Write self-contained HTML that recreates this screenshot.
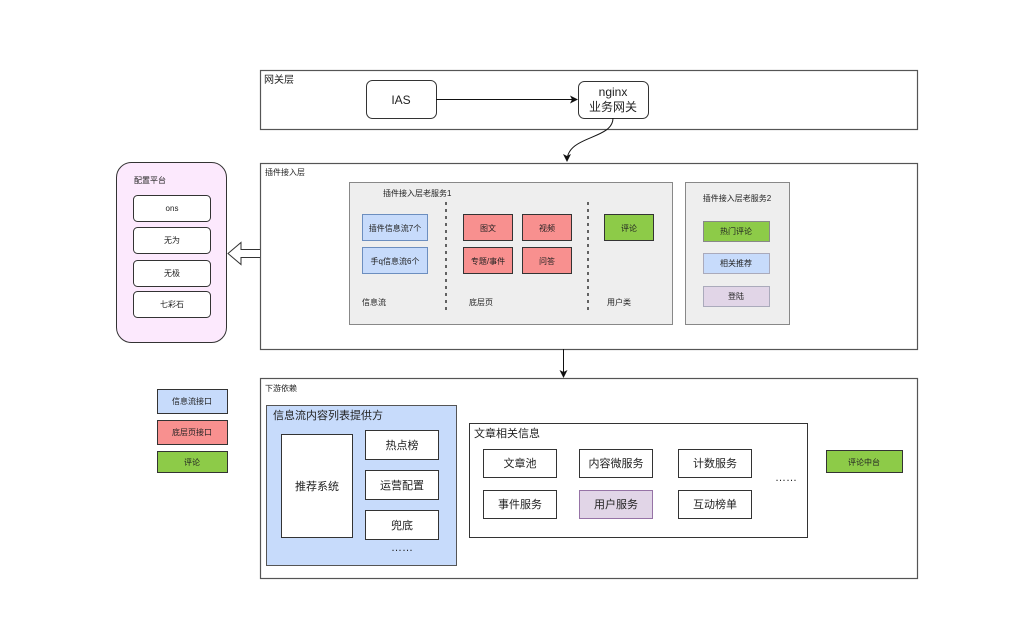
<!DOCTYPE html>
<html><head><meta charset="utf-8"><style>
body{margin:0;background:#fff;}
svg text{font-family:"Liberation Sans","Noto Sans CJK SC",sans-serif;fill:#222;}
</style></head><body>
<svg width="1020" height="621" viewBox="0 0 1020 621" xmlns="http://www.w3.org/2000/svg">
<defs><marker id="a" markerWidth="8" markerHeight="8" refX="7" refY="4" orient="auto" markerUnits="userSpaceOnUse"><path d="M0,0 L8,4 L0,8 L2,4 Z" fill="#111"/></marker></defs>
<!-- gateway -->
<rect x="260.5" y="70.5" width="657" height="59" fill="#fff" stroke="#555" stroke-width="1.2"/>
<text x="264" y="83" font-size="10">网关层</text>
<rect x="366.5" y="80.5" width="70" height="38" rx="6" fill="#fff" stroke="#333"/>
<text x="401" y="104" font-size="12" text-anchor="middle">IAS</text>
<rect x="578.5" y="81.5" width="70" height="37" rx="6" fill="#fff" stroke="#333"/>
<text x="613" y="96" font-size="12" text-anchor="middle">nginx</text>
<text x="613" y="111" font-size="12" text-anchor="middle">业务网关</text>
<line x1="436" y1="99.5" x2="577" y2="99.5" stroke="#111" marker-end="url(#a)"/>
<path d="M613,118 C613,140 567,135 567,161" fill="none" stroke="#111" marker-end="url(#a)"/>
<!-- plugin layer -->
<rect x="260.5" y="163.5" width="657" height="186" fill="#fff" stroke="#555" stroke-width="1.2"/>
<text x="265" y="175" font-size="8">插件接入层</text>
<rect x="349.5" y="182.5" width="323" height="142" fill="#eeeeee" stroke="#888"/>
<text x="383" y="196" font-size="8">插件接入层老服务1</text>
<rect x="362.5" y="214.5" width="65" height="26" fill="#c7dbfb" stroke="#6c8ebf"/>
<text x="395" y="231" font-size="8" text-anchor="middle">插件信息流7个</text>
<rect x="362.5" y="247.5" width="65" height="26" fill="#c7dbfb" stroke="#6c8ebf"/>
<text x="395" y="264" font-size="8" text-anchor="middle">手q信息流6个</text>
<line x1="446" y1="202" x2="446" y2="311" stroke="#333" stroke-width="1.5" stroke-dasharray="3,4"/>
<rect x="463.5" y="214.5" width="49" height="26" fill="#f8908f" stroke="#333"/>
<text x="488" y="231" font-size="8" text-anchor="middle">图文</text>
<rect x="522.5" y="214.5" width="49" height="26" fill="#f8908f" stroke="#333"/>
<text x="547" y="231" font-size="8" text-anchor="middle">视频</text>
<rect x="463.5" y="247.5" width="49" height="26" fill="#f8908f" stroke="#333"/>
<text x="488" y="264" font-size="8" text-anchor="middle">专题/事件</text>
<rect x="522.5" y="247.5" width="49" height="26" fill="#f8908f" stroke="#333"/>
<text x="547" y="264" font-size="8" text-anchor="middle">问答</text>
<line x1="588" y1="202" x2="588" y2="311" stroke="#333" stroke-width="1.5" stroke-dasharray="3,4"/>
<rect x="604.5" y="214.5" width="49" height="26" fill="#8dcb48" stroke="#333"/>
<text x="629" y="231" font-size="8" text-anchor="middle">评论</text>
<text x="362" y="305" font-size="8">信息流</text>
<text x="469" y="305" font-size="8">底层页</text>
<text x="607" y="305" font-size="8">用户类</text>
<rect x="685.5" y="182.5" width="104" height="142" fill="#eeeeee" stroke="#888"/>
<text x="737" y="201" font-size="8" text-anchor="middle">插件接入层老服务2</text>
<rect x="703.5" y="221.5" width="66" height="20" fill="#8dcb48" stroke="#888"/>
<text x="736" y="234" font-size="8" text-anchor="middle">热门评论</text>
<rect x="703.5" y="253.5" width="66" height="20" fill="#c7dbfb" stroke="#aab"/>
<text x="736" y="266" font-size="8" text-anchor="middle">相关推荐</text>
<rect x="703.5" y="286.5" width="66" height="20" fill="#e1d5e7" stroke="#aab"/>
<text x="736" y="299" font-size="8" text-anchor="middle">登陆</text>
<!-- config -->
<rect x="116.5" y="162.5" width="110" height="180" rx="15" fill="#fce9fd" stroke="#333"/>
<text x="134" y="183" font-size="8">配置平台</text>
<rect x="133.5" y="195.5" width="77" height="26" rx="4" fill="#fff" stroke="#333"/>
<text x="172" y="211" font-size="8" text-anchor="middle">ons</text>
<rect x="133.5" y="227.5" width="77" height="26" rx="4" fill="#fff" stroke="#333"/>
<text x="172" y="243" font-size="8" text-anchor="middle">无为</text>
<rect x="133.5" y="260.5" width="77" height="26" rx="4" fill="#fff" stroke="#333"/>
<text x="172" y="276" font-size="8" text-anchor="middle">无极</text>
<rect x="133.5" y="291.5" width="77" height="26" rx="4" fill="#fff" stroke="#333"/>
<text x="172" y="307" font-size="8" text-anchor="middle">七彩石</text>
<path d="M260,249.5 L241,249.5 L241,242.5 L228,253.5 L241,264.5 L241,257.5 L260,257.5" fill="#fff" stroke="#333"/>
<!-- arrow down -->
<line x1="563.5" y1="349" x2="563.5" y2="377" stroke="#111" marker-end="url(#a)"/>
<!-- downstream -->
<rect x="260.5" y="378.5" width="657" height="200" fill="#fff" stroke="#555" stroke-width="1.2"/>
<text x="265" y="391" font-size="8">下游依赖</text>
<rect x="266.5" y="405.5" width="190" height="160" fill="#c7dbfb" stroke="#555"/>
<text x="273" y="419" font-size="11">信息流内容列表提供方</text>
<rect x="281.5" y="434.5" width="71" height="103" fill="#fff" stroke="#333"/>
<text x="317" y="490" font-size="11" text-anchor="middle">推荐系统</text>
<rect x="365.5" y="430.5" width="73" height="29" fill="#fff" stroke="#333"/>
<text x="402" y="449" font-size="11" text-anchor="middle">热点榜</text>
<rect x="365.5" y="470.5" width="73" height="29" fill="#fff" stroke="#333"/>
<text x="402" y="489" font-size="11" text-anchor="middle">运营配置</text>
<rect x="365.5" y="510.5" width="73" height="29" fill="#fff" stroke="#333"/>
<text x="402" y="529" font-size="11" text-anchor="middle">兜底</text>
<text x="402" y="551" font-size="11" text-anchor="middle">……</text>
<rect x="469.5" y="423.5" width="338" height="114" fill="#fff" stroke="#333"/>
<text x="474" y="437" font-size="11">文章相关信息</text>
<rect x="483.5" y="449.5" width="73" height="28" fill="#fff" stroke="#333"/>
<text x="520" y="467" font-size="11" text-anchor="middle">文章池</text>
<rect x="579.5" y="449.5" width="73" height="28" fill="#fff" stroke="#333"/>
<text x="616" y="467" font-size="11" text-anchor="middle">内容微服务</text>
<rect x="678.5" y="449.5" width="73" height="28" fill="#fff" stroke="#333"/>
<text x="715" y="467" font-size="11" text-anchor="middle">计数服务</text>
<rect x="483.5" y="490.5" width="73" height="28" fill="#fff" stroke="#333"/>
<text x="520" y="508" font-size="11" text-anchor="middle">事件服务</text>
<rect x="579.5" y="490.5" width="73" height="28" fill="#e1d5e7" stroke="#9673a6"/>
<text x="616" y="508" font-size="11" text-anchor="middle">用户服务</text>
<rect x="678.5" y="490.5" width="73" height="28" fill="#fff" stroke="#333"/>
<text x="715" y="508" font-size="11" text-anchor="middle">互动榜单</text>
<text x="786" y="481" font-size="11" text-anchor="middle">……</text>
<rect x="826.5" y="450.5" width="76" height="22" fill="#8dcb48" stroke="#333"/>
<text x="864" y="465" font-size="8" text-anchor="middle">评论中台</text>
<!-- legend -->
<rect x="157.5" y="389.5" width="70" height="24" fill="#c7dbfb" stroke="#333"/>
<text x="192" y="404" font-size="8" text-anchor="middle">信息流接口</text>
<rect x="157.5" y="420.5" width="70" height="24" fill="#f8908f" stroke="#333"/>
<text x="192" y="435" font-size="8" text-anchor="middle">底层页接口</text>
<rect x="157.5" y="451.5" width="70" height="21" fill="#8dcb48" stroke="#333"/>
<text x="192" y="465" font-size="8" text-anchor="middle">评论</text>
</svg>
</body></html>
